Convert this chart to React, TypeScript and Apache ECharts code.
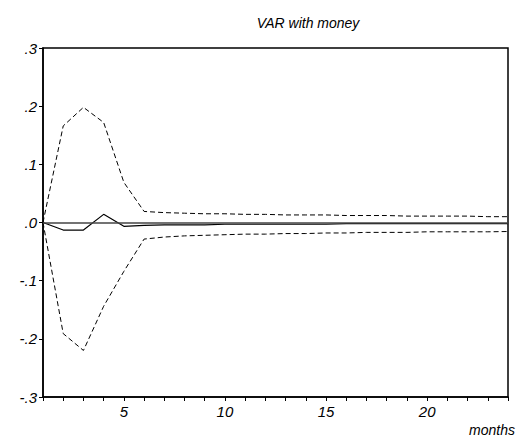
import React, { useEffect, useRef } from "react";
import * as echarts from "echarts";

const months = [1, 2, 3, 4, 5, 6, 7, 8, 9, 10, 11, 12, 13, 14, 15, 16, 17, 18, 19, 20, 21, 22, 23, 24];
const response = [0, -0.013, -0.013, 0.014, -0.0065, -0.005, -0.004, -0.004, -0.004, -0.003, -0.003, -0.003, -0.003, -0.003, -0.003, -0.002, -0.002, -0.002, -0.002, -0.002, -0.002, -0.002, -0.002, -0.002];
const upper = [0, 0.166, 0.198, 0.172, 0.069, 0.019, 0.017, 0.016, 0.015, 0.015, 0.014, 0.014, 0.013, 0.013, 0.013, 0.012, 0.012, 0.012, 0.011, 0.011, 0.011, 0.011, 0.010, 0.010];
const lower = [0, -0.191, -0.22, -0.144, -0.084, -0.0285, -0.025, -0.023, -0.022, -0.021, -0.02, -0.02, -0.019, -0.019, -0.018, -0.018, -0.017, -0.017, -0.017, -0.016, -0.016, -0.016, -0.016, -0.0155];
const titleText = "VAR with money";
const xName = "months";

const FONT = "'Liberation Sans', Arial, sans-serif";

export default function App() {
  const ref = useRef<HTMLDivElement>(null);
  useEffect(() => {
    if (!ref.current) return;
    const chart = echarts.init(ref.current, null, { renderer: "svg" });
    const pair = (arr: number[]) => months.map((m, i) => [m, arr[i]]);
    chart.setOption({
      animation: false,
      backgroundColor: "#fff",
      title: {
        text: titleText,
        left: 303,
        textAlign: "center",
        top: 11,
        textStyle: { fontFamily: FONT, fontStyle: "italic", fontWeight: "normal", fontSize: 14, color: "#000" },
      },
      grid: { left: 43, right: 10, top: 48, bottom: 41, show: true, borderColor: "#000", borderWidth: 1.5, backgroundColor: "transparent" },
      xAxis: {
        type: "value",
        min: 1,
        max: 24,
        interval: 1,
        name: xName,
        nameLocation: "end",
        nameGap: 7,
        nameTextStyle: { fontFamily: FONT, fontStyle: "italic", fontSize: 14, color: "#000", align: "right", verticalAlign: "top", padding: [26, 0, 0, 0] },
        axisLine: { onZero: false, lineStyle: { color: "#000", width: 1.5 } },
        axisTick: { show: true, inside: false, length: 4, lineStyle: { color: "#000" } },
        axisLabel: {
          fontFamily: FONT, fontStyle: "italic", fontSize: 15, color: "#000", margin: 7,
          formatter: (v: number) => (v % 5 === 0 ? String(v) : ""),
        },
        splitLine: { show: false },
      },
      yAxis: {
        type: "value",
        min: -0.3,
        max: 0.3,
        interval: 0.1,
        axisLine: { show: true, onZero: false, lineStyle: { color: "#000", width: 1.5 } },
        axisTick: { show: true, inside: false, length: 4, lineStyle: { color: "#000" } },
        axisLabel: {
          fontFamily: FONT, fontStyle: "italic", fontSize: 15, color: "#000", margin: 6,
          formatter: (v: number) => {
            const s = (Math.round(v * 10) / 10).toFixed(1);
            return s.replace("0.", ".").replace("-.0", ".0");
          },
        },
        splitLine: { show: false },
      },
      series: [
        {
          type: "line",
          data: pair(upper),
          symbol: "none",
          lineStyle: { color: "#000", width: 1, type: [5, 3] },
        },
        {
          type: "line",
          data: pair(lower),
          symbol: "none",
          lineStyle: { color: "#000", width: 1, type: [5, 3] },
        },
        {
          type: "line",
          data: pair(response),
          symbol: "none",
          lineStyle: { color: "#000", width: 1.2 },
          markLine: {
            silent: true,
            symbol: "none",
            label: { show: false },
            lineStyle: { color: "#444", width: 1.5, type: "solid" },
            data: [{ yAxis: 0 }],
          },
          z: 3,
        },
      ],
    });
    return () => chart.dispose();
  }, []);
  return <div ref={ref} style={{ position: "fixed", left: 0, top: 0, width: 518, height: 438 }} />;
}
